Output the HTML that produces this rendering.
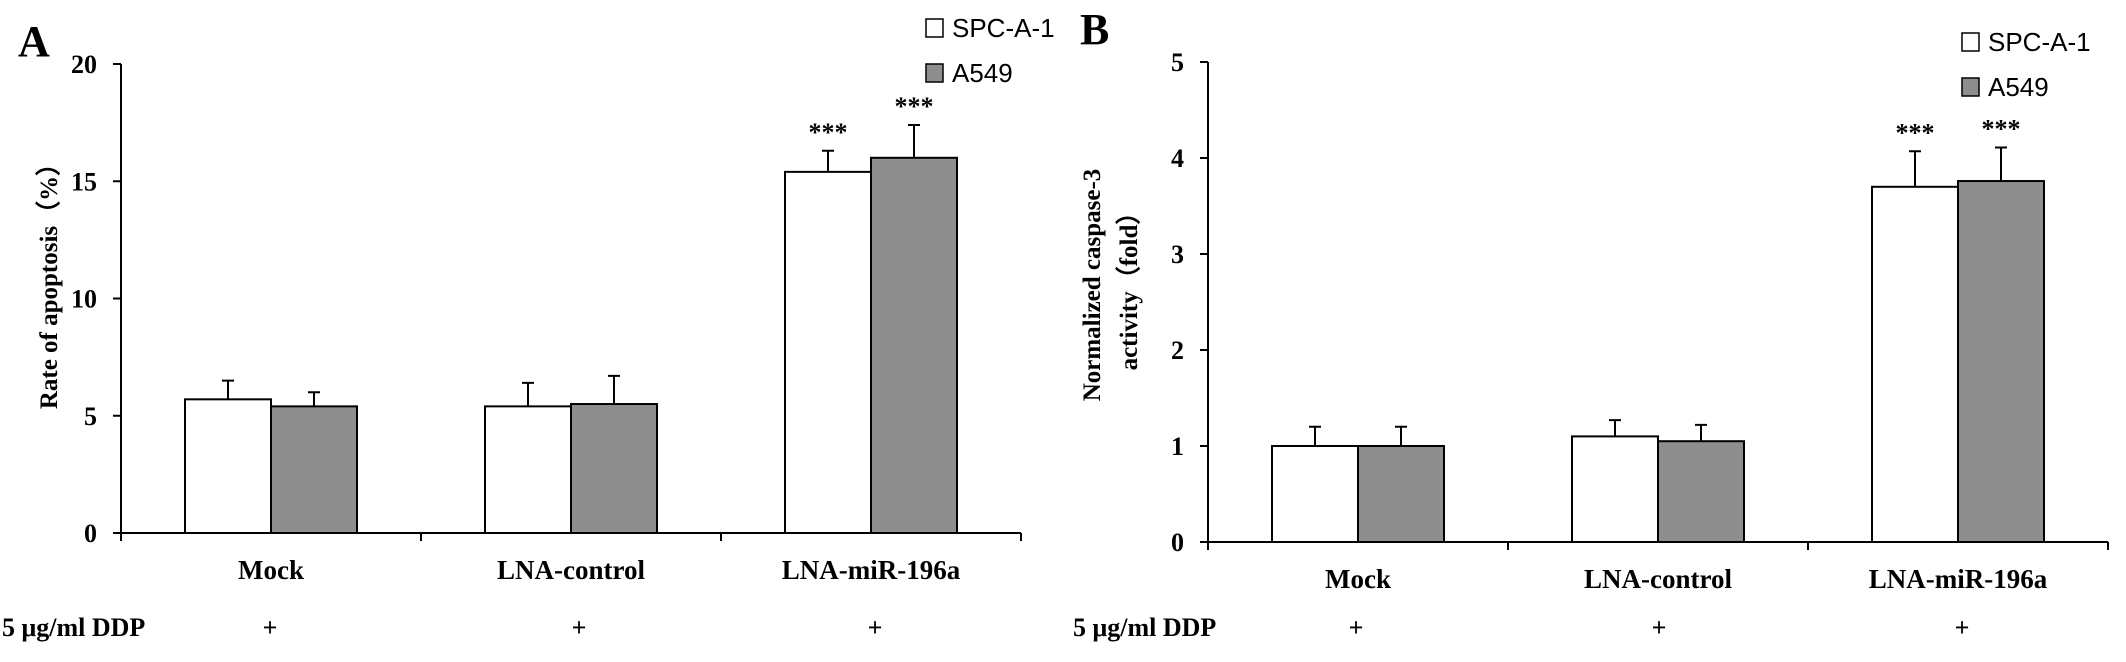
<!DOCTYPE html>
<html><head><meta charset="utf-8"><style>
html,body{margin:0;padding:0;background:#fff;}
svg{display:block;}
.serif{font-family:"Liberation Serif",serif;font-weight:bold;}
.sans{font-family:"Liberation Sans",sans-serif;}
</style></head><body>
<svg id="chart" width="2126" height="662" viewBox="0 0 2126 662" xmlns="http://www.w3.org/2000/svg"></svg>
<script>
const categories = ["Mock", "LNA-control", "LNA-miR-196a"];
const seriesNames = ["SPC-A-1", "A549"];
const apoptosisSPC = [5.7, 5.4, 15.4];
const apoptosisA549 = [5.4, 5.5, 16.0];
const apoptosisErrSPC = [0.8, 1.0, 0.9];
const apoptosisErrA549 = [0.6, 1.2, 1.4];
const caspaseSPC = [1.0, 1.1, 3.7];
const caspaseA549 = [1.0, 1.05, 3.76];
const caspaseErrSPC = [0.2, 0.17, 0.37];
const caspaseErrA549 = [0.2, 0.17, 0.35];
const apoptosisTicks = [0, 5, 10, 15, 20];
const caspaseTicks = [0, 1, 2, 3, 4, 5];
const apoptosisSig = ["", "", "***"];
const caspaseSig = ["", "", "***"];

const NS = "http://www.w3.org/2000/svg";
const svg = document.getElementById("chart");
function mk(tag, attrs, parent, text) {
  const e = document.createElementNS(NS, tag);
  for (const k in attrs) e.setAttribute(k, attrs[k]);
  if (text !== undefined) e.textContent = text;
  (parent || svg).appendChild(e);
  return e;
}

function panel(cfg) {
  const g = mk("g", {});
  
  
  const x0 = cfg.x0, yBase = cfg.yBase, yTop = cfg.yTop, catW = 300, barW = 86;
  const ymax = cfg.ticks[cfg.ticks.length - 1];
  const yS = v => yBase - (v / ymax) * (yBase - yTop);
  const xC = i => x0 + catW * i + catW / 2;

  const ya = mk("line", {x1: x0, y1: yTop, x2: x0, y2: yBase + 8, stroke: "#000", "stroke-width": 2}, g);
  
  
  const xa = mk("line", {x1: x0, y1: yBase, x2: x0 + catW * 3, y2: yBase, stroke: "#000", "stroke-width": 2}, g);
  
  
  for (let i = 1; i <= 3; i++) {
    const t = mk("line", {x1: x0 + catW * i, y1: yBase, x2: x0 + catW * i, y2: yBase + 8, stroke: "#000", "stroke-width": 2}, g);
    
    
  }
  cfg.ticks.forEach(v => {
    const t = mk("line", {x1: x0 - 8, y1: yS(v), x2: x0, y2: yS(v), stroke: "#000", "stroke-width": 2}, g);
    
    
    const l = mk("text", {x: x0 - 24, y: yS(v) + 9, "text-anchor": "end", "font-size": 26, class: "serif"}, g, String(v));
    
    
  });

  const series = [cfg.s1, cfg.s2], errs = [cfg.e1, cfg.e2], fills = ["#ffffff", "#8e8e8e"];
  categories.forEach((c, i) => {
    series.forEach((s, k) => {
      const bx = xC(i) - barW + k * barW;
      const r = mk("rect", {x: bx, y: yS(s[i]), width: barW, height: yBase - yS(s[i]), fill: fills[k], stroke: "#000", "stroke-width": 2}, g);
      
      
      const cx = bx + barW / 2, top = yS(s[i] + errs[k][i]);
      const e = mk("path", {d: `M${cx},${yS(s[i])} V${top} M${cx - 6},${top} H${cx + 6}`, stroke: "#000", "stroke-width": 2, fill: "none"}, g);
      
      
      if (cfg.sig[i]) {
        const st = mk("text", {x: cx, y: top - 10, "text-anchor": "middle", "font-size": 26, class: "serif"}, g, cfg.sig[i]);
        
        
      }
    });
    const cl = mk("text", {x: xC(i), y: yBase + 46, "text-anchor": "middle", "font-size": 27, class: "serif"}, g, c);
    
    
    const p = mk("text", {x: cfg.plusX[i], y: 636, "text-anchor": "middle", "font-size": 26, class: "serif"}, g, "+");
    
    
  });

  const dd = mk("text", {x: cfg.ddpX, y: 636, "font-size": 26, class: "serif"}, g, "5 μg/ml DDP");
  
  

  const pl = mk("text", {x: cfg.labelX, y: cfg.labelY, "font-size": 44, class: "serif"}, g, cfg.label);
  
  

  [0, 1].forEach(k => {
    const ly = k === 0 ? cfg.legY : cfg.legY + 45;
    const sq = mk("rect", {x: cfg.legX, y: ly - 9, width: 17, height: 18, fill: fills[k], stroke: "#000", "stroke-width": 1.5}, g);
    
    
    const lt = mk("text", {x: cfg.legX + 26, y: ly + 9, "font-size": 26, class: "sans"}, g, seriesNames[k]);
    
    
  });

  cfg.yTitle.forEach((line, j) => {
    const tx = cfg.yTitleX + j * 37;
    const t = mk("text", {x: tx, y: cfg.yTitleY, "text-anchor": "middle", "font-size": 25, class: "serif", transform: `rotate(-90 ${tx} ${cfg.yTitleY})`}, g, line);
    
    
  });
}

panel({name: "panel-a-apoptosis", x0: 121, yBase: 533, yTop: 64, ticks: apoptosisTicks,
  s1: apoptosisSPC, s2: apoptosisA549, e1: apoptosisErrSPC, e2: apoptosisErrA549, sig: apoptosisSig,
  plusX: [270, 579, 875], ddpX: 2, label: "A", labelX: 18, labelY: 56,
  legX: 926, legY: 28, yTitle: ["Rate of apoptosis（%）"], yTitleX: 57, yTitleY: 280});
panel({name: "panel-b-caspase", x0: 1208, yBase: 542, yTop: 62, ticks: caspaseTicks,
  s1: caspaseSPC, s2: caspaseA549, e1: caspaseErrSPC, e2: caspaseErrA549, sig: caspaseSig,
  plusX: [1356, 1659, 1962], ddpX: 1073, label: "B", labelX: 1080, labelY: 44,
  legX: 1962, legY: 42, yTitle: ["Normalized  caspase-3", "activity（fold）"], yTitleX: 1100, yTitleY: 285});
</script>
</body></html>
